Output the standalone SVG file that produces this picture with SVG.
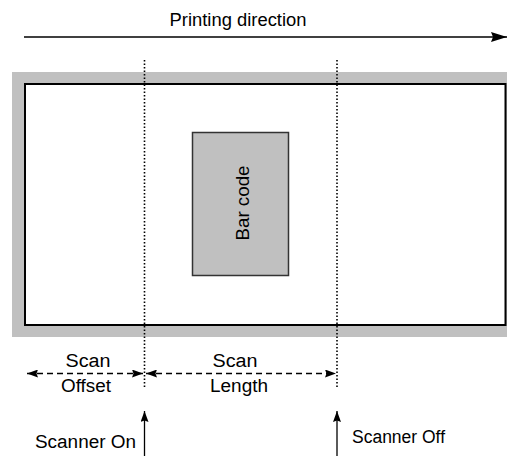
<svg xmlns="http://www.w3.org/2000/svg" width="507" height="456" viewBox="0 0 507 456">
<defs>
<marker id="ah" viewBox="0 0 11 8" refX="11" refY="4" markerWidth="11" markerHeight="8" markerUnits="userSpaceOnUse" orient="auto-start-reverse">
<path d="M0,0 L11,4 L0,8 L1.5,4 Z" fill="#000"/>
</marker>
<marker id="ahBig" viewBox="0 0 16 10" refX="16" refY="5" markerWidth="16" markerHeight="10" markerUnits="userSpaceOnUse" orient="auto">
<path d="M0,0 L16,5 L0,10 L2,5 Z" fill="#000"/>
</marker>
</defs>
<style>
text{font-family:"Liberation Sans",Arial,sans-serif;font-size:18px;fill:#000}
.dim{stroke:#000;stroke-width:1.3;stroke-dasharray:6,4;fill:none}
.dot{stroke:#000;stroke-width:1.6;stroke-dasharray:1.5,2;fill:none}
.ln{stroke:#000;stroke-width:1.3;fill:none}
</style>
<rect x="0" y="0" width="507" height="456" fill="#fff"/>
<g id="label">
<rect x="12" y="72" width="495" height="265" fill="#c0c0c0"/>
<rect x="25" y="84" width="480.5" height="241" fill="#fff" stroke="#000" stroke-width="2"/>
</g>
<g id="barcode">
<rect x="192.5" y="132.5" width="96" height="143" fill="#c0c0c0" stroke="#333" stroke-width="1.5"/>
<text transform="translate(249,203) rotate(-90)" text-anchor="middle" textLength="75" lengthAdjust="spacingAndGlyphs">Bar code</text>
</g>
<g id="title">
<text x="238" y="26" text-anchor="middle" textLength="137" lengthAdjust="spacingAndGlyphs">Printing direction</text>
</g>
<g id="scan-offset">
<text x="88" y="367" text-anchor="middle" textLength="45" lengthAdjust="spacingAndGlyphs">Scan</text>
<text x="86" y="392" text-anchor="middle" textLength="50" lengthAdjust="spacingAndGlyphs">Offset</text>
</g>
<g id="scan-length">
<text x="235" y="367" text-anchor="middle" textLength="45" lengthAdjust="spacingAndGlyphs">Scan</text>
<text x="239" y="392" text-anchor="middle" textLength="58" lengthAdjust="spacingAndGlyphs">Length</text>
</g>
<g id="scanner-on">
<text x="136" y="448" text-anchor="end" textLength="101" lengthAdjust="spacingAndGlyphs">Scanner On</text>
</g>
<g id="scanner-off">
<text x="352" y="443" textLength="93" lengthAdjust="spacingAndGlyphs">Scanner Off</text>
</g>
<g id="connectors">
<line class="ln" x1="24" y1="37" x2="507" y2="37" marker-end="url(#ahBig)"/>
<line class="dot" x1="144.5" y1="60" x2="144.5" y2="387"/>
<line class="dot" x1="337" y1="60" x2="337" y2="387"/>
<line class="dim" x1="27" y1="373.5" x2="143" y2="373.5" marker-start="url(#ah)" marker-end="url(#ah)"/>
<line class="dim" x1="146" y1="373.5" x2="336" y2="373.5" marker-start="url(#ah)" marker-end="url(#ah)"/>
<line class="ln" x1="144.5" y1="456" x2="144.5" y2="411" marker-end="url(#ah)"/>
<line class="ln" x1="337" y1="456" x2="337" y2="411" marker-end="url(#ah)"/>
</g>
</svg>
